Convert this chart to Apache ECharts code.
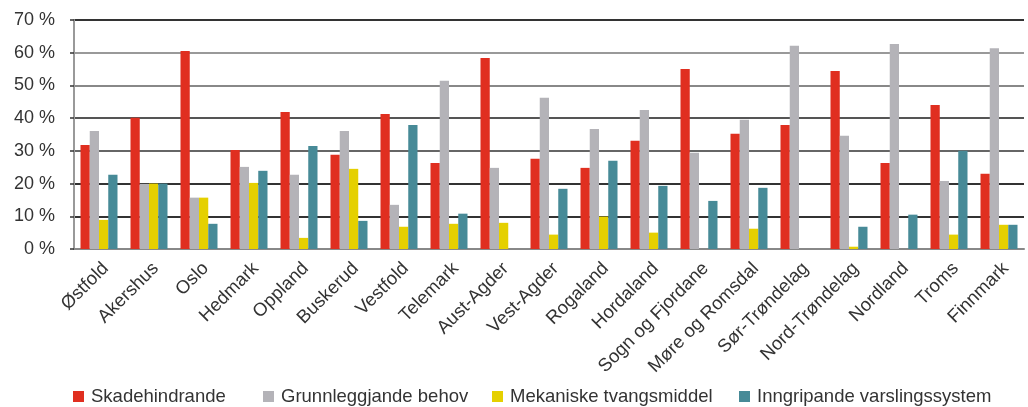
<!DOCTYPE html>
<html>
<head>
<meta charset="utf-8">
<script src="https://cdn.jsdelivr.net/npm/echarts@6/dist/echarts.min.js"></script>
<style>html,body{margin:0;padding:0;background:#fff}#c{width:1028px;height:407px}</style>
</head>
<body>
<div id="c"></div>
<script>
const categories = ['Østfold','Akershus','Oslo','Hedmark','Oppland','Buskerud','Vestfold','Telemark','Aust-Agder','Vest-Agder','Rogaland','Hordaland','Sogn og Fjordane','Møre og Romsdal','Sør-Trøndelag','Nord-Trøndelag','Nordland','Troms','Finnmark'];
const seriesNames = ['Skadehindrande','Grunnleggjande behov','Mekaniske tvangsmiddel','Inngripande varslingssystem'];
const skadehindrande = [31.8,40.1,60.5,30.3,41.9,28.8,41.3,26.3,58.4,27.6,24.8,33.1,55.0,35.2,37.9,54.4,26.3,44.0,23.0];
const grunnleggjande = [36.1,19.9,15.7,25.1,22.7,36.1,13.5,51.4,24.8,46.2,36.7,42.5,29.4,39.5,62.1,34.6,62.7,20.8,61.4];
const mekaniske = [8.9,20.0,15.7,20.2,3.4,24.5,6.8,7.7,8.0,4.4,9.9,5.0,0,6.2,0,0.7,0,4.4,7.4];
const inngripande = [22.7,20.0,7.7,23.9,31.5,8.6,37.9,10.8,0,18.4,27.0,19.3,14.7,18.7,0,6.8,10.5,30.0,7.4];
const yTicks = [0,10,20,30,40,50,60,70];

const colors = ['#e02f20','#b4b3b8','#e5d000','#478a97'];
const values = [skadehindrande, grunnleggjande, mekaniske, inngripande];
const legendLeft = [73, 263, 492, 739];

const chart = echarts.init(document.getElementById('c'));
chart.setOption({
  animation: false,
  textStyle: {fontFamily: 'Liberation Sans, Arial, sans-serif'},
  grid: {left: 74, right: 4, top: 20, bottom: 158},
  legend: seriesNames.map((n, i) => ({
    data: [n], left: legendLeft[i], top: 387, padding: 0, itemWidth: 11, itemHeight: 11, itemGap: 0,
    icon: 'rect', textStyle: {fontSize: 18.5, color: '#333', padding: [0,0,0,2]}
  })),
  xAxis: {
    type: 'category', data: categories,
    axisLine: {lineStyle: {color: '#888', width: 2}},
    axisTick: {length: 5, lineStyle: {color: '#333', width: 1.5}},
    axisLabel: {rotate: 45, fontSize: 18.5, color: '#333', margin: 10, interval: 0, verticalAlign: 'top'}
  },
  yAxis: {
    type: 'value', min: 0, max: 70, interval: 10,
    axisLine: {show: true, lineStyle: {color: '#999', width: 2}},
    axisTick: {show: true, length: 4, lineStyle: {color: '#333', width: 1.5}},
    axisLabel: {fontSize: 18, color: '#333', margin: 19, formatter: v => yTicks.includes(v) ? v + ' %' : ''},
    splitLine: {lineStyle: {color: ['#888','#333','#333','#666','#555','#888','#999','#333'], width: 2}}
  },
  series: seriesNames.map((n, i) => ({
    name: n, type: 'bar', data: values[i], barGap: '0%', barCategoryGap: '26%',
    itemStyle: {color: colors[i]}
  }))
});
</script>
</body>
</html>
